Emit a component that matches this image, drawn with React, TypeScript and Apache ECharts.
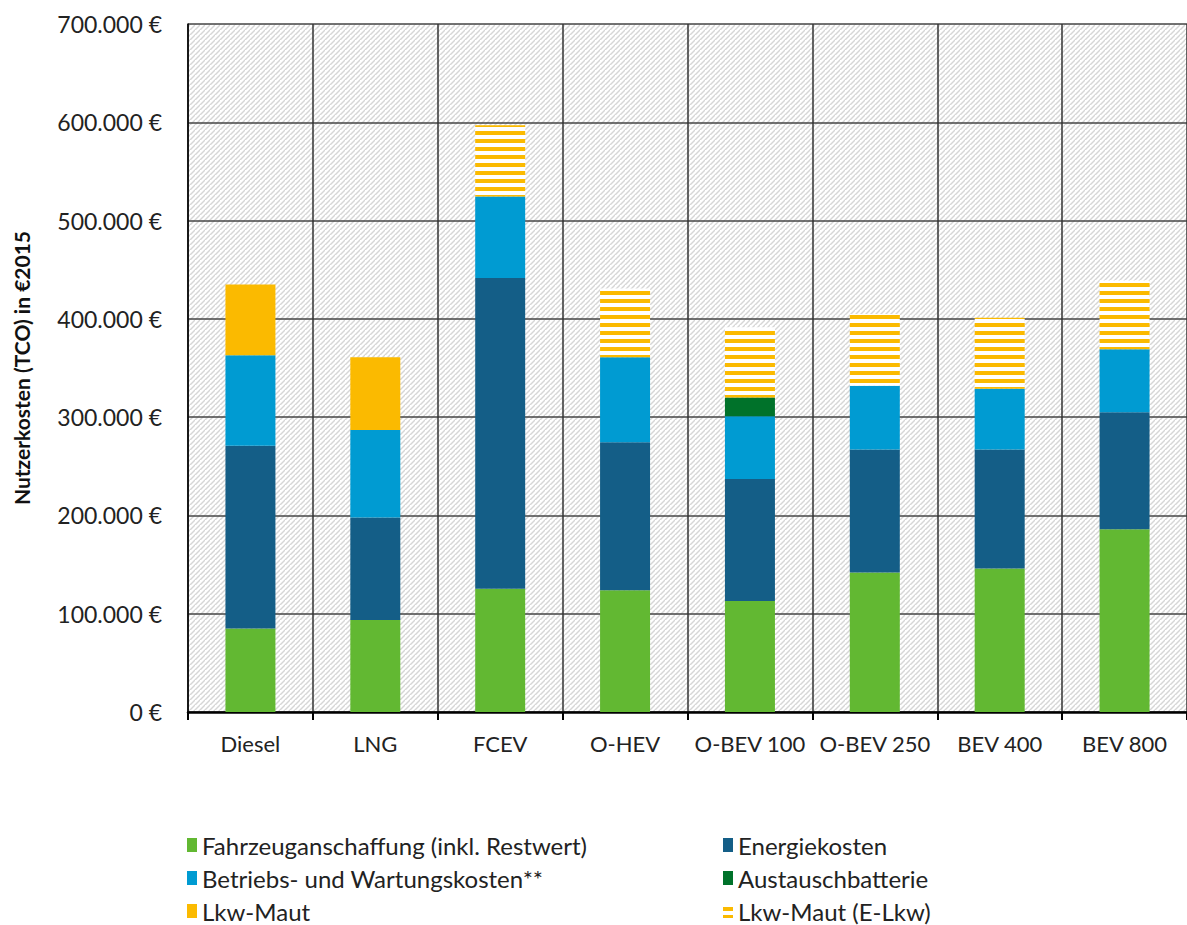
import React, { useEffect, useRef } from "react";
import * as echarts from "echarts";

const categories = ["Diesel", "LNG", "FCEV", "O-HEV", "O-BEV 100", "O-BEV 250", "BEV 400", "BEV 800"];
const fahrzeug = [85000, 93500, 125500, 124000, 113000, 142000, 146000, 186000];
const energie = [186000, 104500, 316000, 150500, 124000, 125000, 121000, 119000];
const betrieb = [92000, 89000, 83000, 86500, 64000, 65000, 62000, 64000];
const austausch = [null, null, null, null, 19000, null, null, null];
const maut = [72000, 74000, null, null, null, null, null, null];
const mautE = [null, null, 72500, 70000, 71500, 73000, 72000, 70000];
const yTicks = [0, 100000, 200000, 300000, 400000, 500000, 600000, 700000];

const leftLegend = ["Fahrzeuganschaffung (inkl. Restwert)", "Betriebs- und Wartungskosten**", "Lkw-Maut"];
const rightLegend = ["Energiekosten", "Austauschbatterie", "Lkw-Maut (E-Lkw)"];

const FONT = "Lato";

function hatchCanvas() {
  const c = document.createElement("canvas");
  c.width = 5;
  c.height = 5;
  const ctx = c.getContext("2d")!;
  ctx.fillStyle = "#ffffff";
  ctx.fillRect(0, 0, 5, 5);
  ctx.strokeStyle = "#d6d6d6";
  ctx.lineWidth = 1.4;
  for (const k of [0, 5, 10]) {
    ctx.beginPath();
    ctx.moveTo(0, k);
    ctx.lineTo(k, 0);
    ctx.stroke();
  }
  return c;
}

function stripeCanvas() {
  const c = document.createElement("canvas");
  c.width = 8;
  c.height = 8;
  const ctx = c.getContext("2d")!;
  ctx.fillStyle = "#ffffff";
  ctx.fillRect(0, 0, 8, 8);
  ctx.fillStyle = "#FBBA00";
  ctx.fillRect(0, 3, 8, 4);
  return c;
}

function fmt(v: number) {
  if (v === 0) return "0 €";
  const s = String(Math.round(v));
  return s.replace(/\B(?=(\d{3})+(?!\d))/g, ".") + " €";
}

export default function App() {
  const ref = useRef<HTMLDivElement>(null);
  useEffect(() => {
    if (!ref.current) return;
    const chart = echarts.init(ref.current, null, { renderer: "svg" });
    const hatch = { image: hatchCanvas(), repeat: "repeat", imageWidth: 5, imageHeight: 5 } as any;
    const stripes = { image: stripeCanvas(), repeat: "repeat", imageWidth: 8, imageHeight: 8 } as any;
    const mk = (name: string, data: any[], color: any) => ({
      name,
      type: "bar",
      stack: "tco",
      barWidth: 50,
      data,
      itemStyle: { color },
      emphasis: { disabled: true },
    });
    const rowTops = [833, 866, 899];
    const mkLegend = (name: string, left: number, top: number) => ({
      data: [name],
      left,
      top,
      padding: 0,
      itemWidth: 10,
      itemHeight: 14,
      itemGap: 6,
      icon: "rect",
      textStyle: { fontFamily: FONT, fontSize: 24, color: "#222" },
    });
    chart.setOption({
      animation: false,
      textStyle: { fontFamily: FONT },
      grid: {
        show: true,
        left: 188,
        top: 24,
        width: 1000,
        height: 688,
        backgroundColor: hatch,
        borderWidth: 0,
      },
      legend: [
        ...leftLegend.map((n, i) => mkLegend(n, 187, rowTops[i])),
        ...rightLegend.map((n, i) => mkLegend(n, 723, rowTops[i])),
      ],
      xAxis: {
        type: "category",
        data: categories,
        axisLine: { lineStyle: { color: "#000", width: 2.5 } },
        axisTick: { show: true, interval: 0, length: 8, lineStyle: { color: "#000", width: 2 } },
        axisLabel: { interval: 0, fontFamily: FONT, fontSize: 22, color: "#222", margin: 20 },
        splitLine: { show: true, interval: 0, lineStyle: { color: "#333", width: 1.5 } },
      },
      yAxis: {
        type: "value",
        min: yTicks[0],
        max: yTicks[yTicks.length - 1],
        interval: 100000,
        name: "Nutzerkosten (TCO) in €2015",
        nameLocation: "middle",
        nameGap: 156,
        nameTextStyle: { fontFamily: FONT, fontSize: 21, fontWeight: "bold", color: "#111" },
        axisLine: { show: true, lineStyle: { color: "#000", width: 1.5 } },
        axisTick: { show: false },
        axisLabel: { fontFamily: FONT, fontSize: 23, color: "#222", margin: 26, formatter: fmt },
        splitLine: { show: true, lineStyle: { color: "#444", width: 1.5 } },
      },
      series: [
        mk("Fahrzeuganschaffung (inkl. Restwert)", fahrzeug, "#62B832"),
        mk("Energiekosten", energie, "#145E87"),
        mk("Betriebs- und Wartungskosten**", betrieb, "#009BD2"),
        mk("Austauschbatterie", austausch, "#00722A"),
        mk("Lkw-Maut", maut, "#FBBA00"),
        mk("Lkw-Maut (E-Lkw)", mautE, stripes),
      ],
    });
    return () => chart.dispose();
  }, []);
  return (
    <div
      ref={ref}
      style={{ position: "fixed", left: 0, top: 0, width: 1187, height: 925, background: "#fff" }}
    />
  );
}
